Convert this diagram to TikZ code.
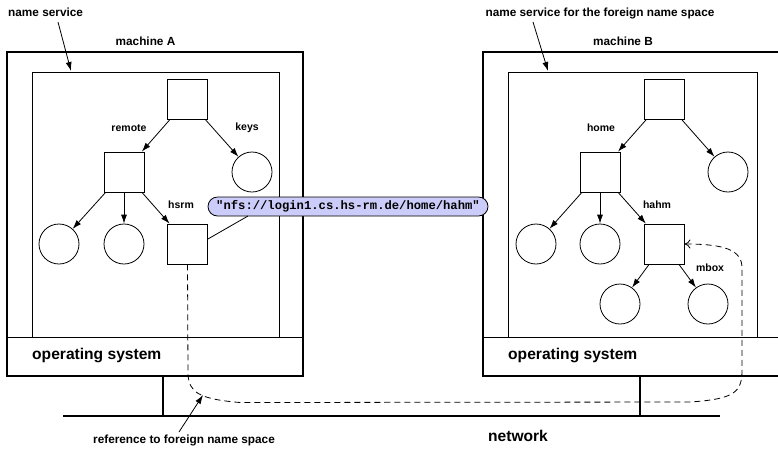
\documentclass[tikz,border=0pt]{standalone}
\usepackage{fontspec}
\setmainfont{Liberation Sans}
\newfontfamily\monofont{Liberation Mono}
\usetikzlibrary{arrows.meta,shapes.misc}
\definecolor{bubblefill}{RGB}{204,204,250}
\begin{document}
\begin{tikzpicture}[x=1pt,y=-1pt,
  sq/.style={draw,line width=0.8pt,minimum size=40pt,inner sep=0pt,rectangle},
  leaf/.style={draw,line width=0.8pt,minimum size=40pt,inner sep=0pt,circle},
  edge/.style={line width=0.8pt,-{Latex[length=9pt,width=6pt]}},
  lbl/.style={font=\bfseries\fontsize{10.5}{12}\selectfont,inner sep=0pt},
  biglbl/.style={font=\bfseries\fontsize{11.8}{14}\selectfont,inner sep=0pt},
  oslbl/.style={font=\bfseries\fontsize{15.6}{18}\selectfont,inner sep=0pt},
  machine/.style={line width=2.6pt},
  inner/.style={line width=0.8pt},
  wire/.style={line width=2.6pt},
  refline/.style={line width=0.8pt,dash pattern=on 6pt off 4pt}
]
\useasboundingbox (0,0) rectangle (778,448);
\clip (0,0) rectangle (778,448);

% machine A
\draw[inner] (32,72) rectangle (279,337);
\draw[inner] (7,337) -- (303,337);
\draw[machine] (7,52) rectangle (303,376);
\node[oslbl,anchor=west] (osA) at (32,355) {operating system};
\node[biglbl] (machA) at (145.5,41) {machine A};

% machine B
\draw[inner] (508,72) rectangle (757,337);
\draw[inner] (483,337) -- (800,337);
\draw[machine] (483,52) rectangle (800,376);
\node[oslbl,anchor=west] (osB) at (508,355) {operating system};
\node[biglbl] (machB) at (623,41) {machine B};

% network
\coordinate (netL) at (63,416);
\coordinate (netR) at (720,416);
\coordinate (standA) at (163,376);
\coordinate (standAb) at (163,416);
\coordinate (standB) at (640,376);
\coordinate (standBb) at (640,416);
\draw[wire] (standA) -- (standAb);
\draw[wire] (standB) -- (standBb);
\draw[wire] (netL) -- (netR);
\node[oslbl] (net) at (518,436) {network};

% tree A
\node[sq] (rootA) at (187.5,99.5) {};
\node[sq] (remote) at (124,172) {};
\node[leaf] (keys) at (252,172) {};
\node[leaf] (a1) at (59,244) {};
\node[leaf] (a2) at (124,244) {};
\node[sq] (hsrm) at (187.5,244) {};
\draw[edge] (rootA) -- (remote);
\draw[edge] (rootA) -- (keys);
\draw[edge] (remote) -- (a1);
\draw[edge] (remote) -- (a2);
\draw[edge] (remote) -- (hsrm);
\node[lbl] (lremote) at (129,128) {remote};
\node[lbl] (lkeys) at (247,128) {keys};
\node[lbl] (lhsrm) at (181,205) {hsrm};

% tree B
\node[sq] (rootB) at (664,99.5) {};
\node[sq] (home) at (600,172) {};
\node[leaf] (bright) at (728,172) {};
\node[leaf] (b1) at (536,244) {};
\node[leaf] (b2) at (600,244) {};
\node[sq] (hahm) at (664,244) {};
\node[leaf] (m1) at (620,304) {};
\node[leaf] (m2) at (708,304) {};
\draw[edge] (rootB) -- (home);
\draw[edge] (rootB) -- (bright);
\draw[edge] (home) -- (b1);
\draw[edge] (home) -- (b2);
\draw[edge] (home) -- (hahm);
\draw[edge] (hahm) -- (m1);
\draw[edge] (hahm) -- (m2);
\node[lbl] (lhome) at (601,128) {home};
\node[lbl] (lhahm) at (657,205) {hahm};
\node[lbl] (lmbox) at (710,268) {mbox};

% bubble
\node[draw,line width=0.8pt,fill=bubblefill,rounded rectangle,
      minimum width=280pt,minimum height=19pt,inner sep=0pt,
      font=\monofont\bfseries\fontsize{12.2}{14}\selectfont] (bubble) at (348,206.5)
      {"nfs://login1.cs.hs-rm.de/home/hahm"};
\coordinate (bubfoot) at (248,216);
\draw[line width=0.8pt] (hsrm.east |- 0,239) -- (bubfoot);

% reference (dashed)
\draw[refline,-{To[length=6pt,width=9pt]}] (hsrm.south) -- (188,374)
  .. controls (189,392) and (198,399) .. (240,402.5)
  -- (690,402)
  .. controls (735,399) and (742,392) .. (742,370)
  -- (742,268)
  .. controls (742,250) and (725,244) .. (hahm.east);

% top labels
\node[biglbl,anchor=west] (ns) at (8,12) {name service};
\coordinate (nsTip) at (71,71);
\draw[edge] (58,22) -- (nsTip);
\node[biglbl] (nsf) at (600,13) {name service for the foreign name space};
\coordinate (nsfTip) at (548,71);
\draw[edge] (533,22) -- (nsfTip);

\node[biglbl] (ref) at (184,440) {reference to foreign name space};
\coordinate (refTip) at (203,395);
\draw[edge] (179,432) -- (refTip);
\end{tikzpicture}
\end{document}
